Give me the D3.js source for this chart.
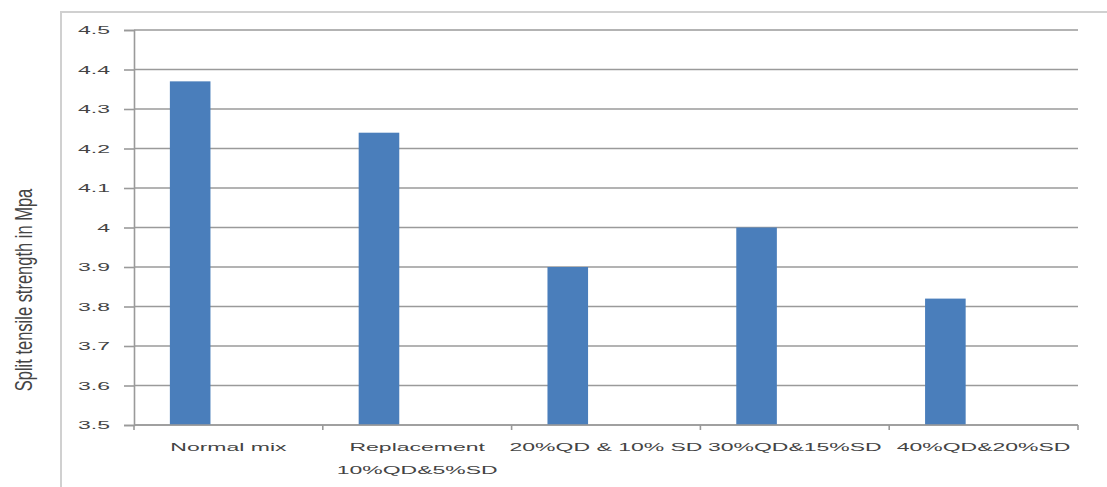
<!DOCTYPE html>
<html>
<head>
<meta charset="utf-8">
<script src="https://cdn.jsdelivr.net/npm/d3@7"></script>
<style>
  html, body { margin: 0; padding: 0; background: #fff; }
  svg { display: block; font-family: "Liberation Sans", Arial, sans-serif; }
</style>
</head>
<body>
<div id="chart"></div>
<script>
// chart values
const categories = [
  "Normal mix",
  "Replacement\n10%QD&5%SD",
  "20%QD & 10% SD",
  "30%QD&15%SD",
  "40%QD&20%SD"
];
const strength = [4.37, 4.24, 3.90, 4.00, 3.82];
const yTicks = [3.5, 3.6, 3.7, 3.8, 3.9, 4, 4.1, 4.2, 4.3, 4.4, 4.5];
const yTitle = "Split tensile strength in Mpa";

const W = 1107, H = 487;
const plot = { left: 134, right: 1078, top: 30, bottom: 425 };
const STRETCH = 2; // the source picture is squashed horizontally

const svg = d3.select("#chart").append("svg")
  .attr("width", W)
  .attr("height", H);

// outer chart frame (only top and left edges visible)
svg.append("path")
  .attr("d", `M61,${H} L61,12 L${W},12`)
  .attr("fill", "none")
  .attr("stroke", "#d0d0d0")
  .attr("stroke-width", 2);

const x = d3.scaleBand()
  .domain(categories)
  .range([plot.left, plot.right])
  .paddingInner(0)
  .paddingOuter(0);

const y = d3.scaleLinear()
  .domain([3.5, 4.5])
  .range([plot.bottom, plot.top]);

// gridlines
svg.append("g")
  .selectAll("line")
  .data(yTicks)
  .join("line")
  .attr("x1", plot.left)
  .attr("x2", plot.right)
  .attr("y1", d => y(d))
  .attr("y2", d => y(d))
  .attr("stroke", "#9a9a9a")
  .attr("stroke-width", 1.6);

// bars (sit in the left part of each category, like a clustered excel bar)
const barOffset = 0.19, barWidth = 0.215;
svg.append("g")
  .selectAll("rect")
  .data(strength)
  .join("rect")
  .attr("x", (d, i) => x(categories[i]) + x.bandwidth() * barOffset)
  .attr("width", x.bandwidth() * barWidth)
  .attr("y", d => y(d))
  .attr("height", d => y(3.5) - y(d))
  .attr("fill", "#4a7ebb");

// y axis
const yAxis = svg.append("g")
  .attr("transform", `translate(${plot.left},0)`)
  .call(d3.axisLeft(y).tickValues(yTicks).tickSize(10).tickFormat(d3.format("~g")));
yAxis.select(".domain").attr("stroke", "#9a9a9a").attr("stroke-width", 1.6);
yAxis.selectAll(".tick line").attr("stroke", "#9a9a9a").attr("stroke-width", 1.6);
yAxis.selectAll(".tick text")
  .attr("x", null).attr("dy", null)
  .attr("text-anchor", "end")
  .attr("dominant-baseline", "central")
  .attr("font-size", 11.5)
  .attr("fill", "#444")
  .attr("transform", `translate(-24,0) scale(${STRETCH},1)`);

// x axis
const xAxis = svg.append("g")
  .attr("transform", `translate(0,${plot.bottom})`);
xAxis.append("line")
  .attr("x1", plot.left).attr("x2", plot.right)
  .attr("stroke", "#9a9a9a").attr("stroke-width", 1.6);
xAxis.selectAll("line.tick")
  .data(categories.concat([null]))
  .join("line")
  .attr("class", "tick")
  .attr("x1", (d, i) => i < categories.length ? x(d) : plot.right)
  .attr("x2", (d, i) => i < categories.length ? x(d) : plot.right)
  .attr("y1", 0).attr("y2", 5)
  .attr("stroke", "#9a9a9a").attr("stroke-width", 1.6);

const labels = xAxis.selectAll("text")
  .data(categories)
  .join("text")
  .attr("text-anchor", "middle")
  .attr("font-size", 11.5)
  .attr("fill", "#444")
  .attr("transform", d => `translate(${x(d) + x.bandwidth() / 2},26) scale(${STRETCH},1)`);
labels.each(function(d) {
  const lines = d.split("\n");
  d3.select(this).selectAll("tspan")
    .data(lines)
    .join("tspan")
    .attr("x", 0)
    .attr("dy", (l, i) => i === 0 ? 0 : 23)
    .text(l => l);
});

// y axis title
svg.append("text")
  .attr("transform", `translate(32,290) scale(1.4,1) rotate(-90)`)
  .attr("text-anchor", "middle")
  .attr("font-size", 16.5)
  .attr("fill", "#444")
  .text(yTitle);
</script>
</body>
</html>
